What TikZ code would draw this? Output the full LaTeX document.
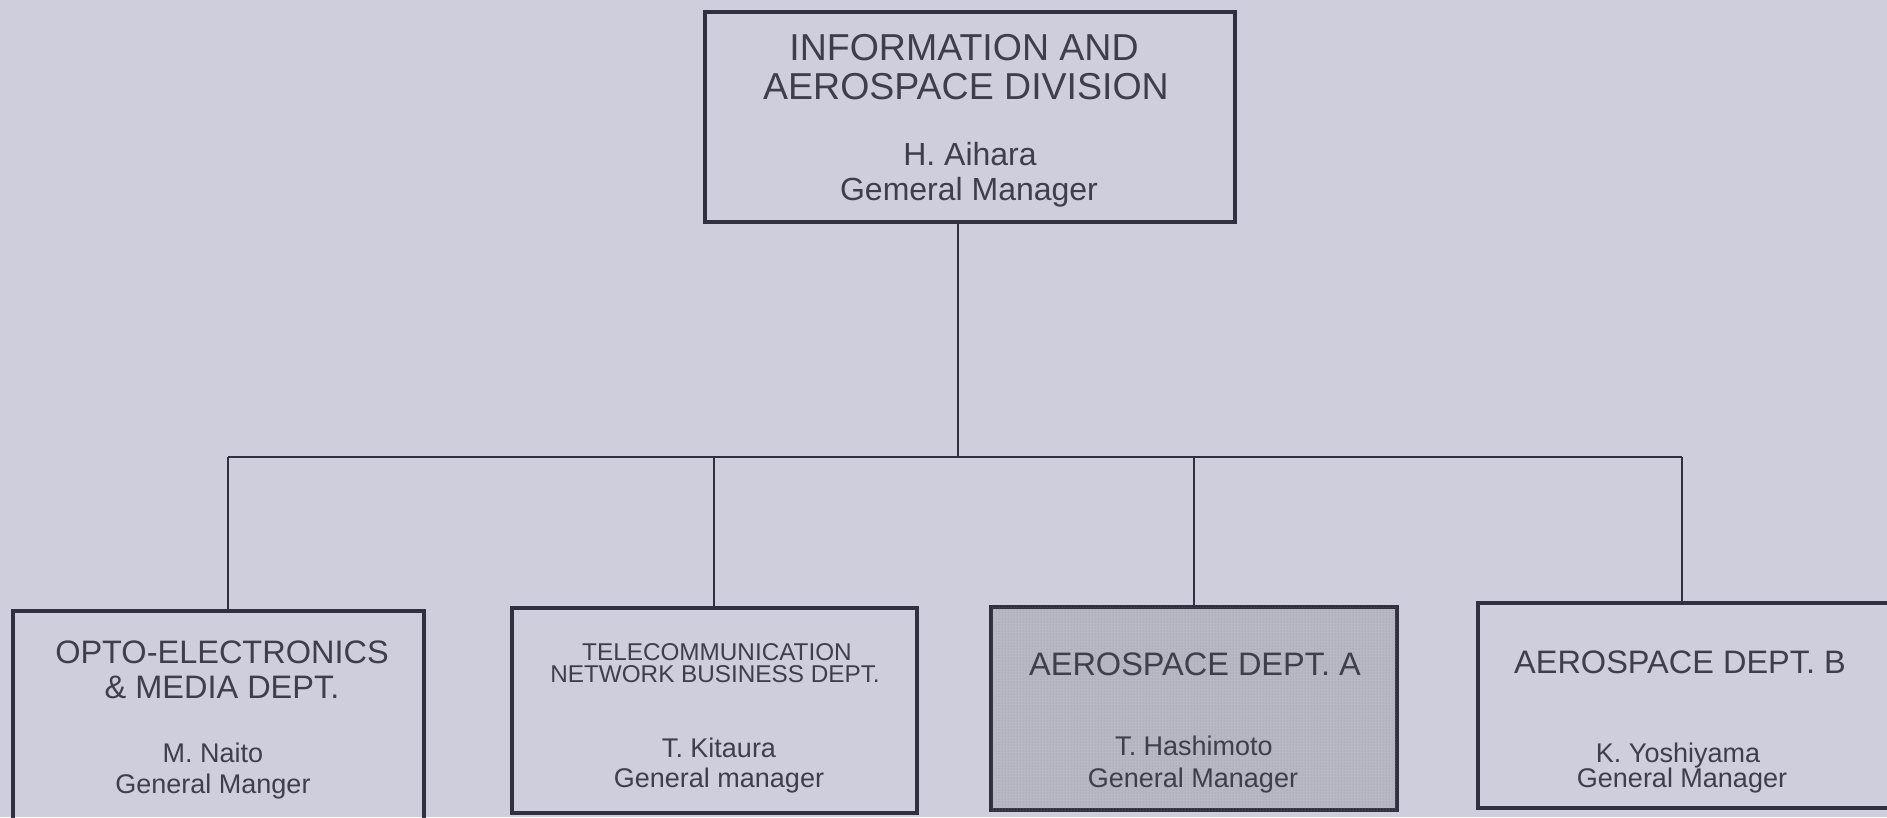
\documentclass[tikz,border=0pt]{standalone}
\usepackage{fontspec}
\setmainfont{Liberation Sans}
\usetikzlibrary{patterns}
\definecolor{bg}{RGB}{207,206,221}
\definecolor{ln}{RGB}{48,48,64}
\definecolor{tx}{RGB}{62,62,76}
\definecolor{shade}{RGB}{184,183,196}
\definecolor{dotc}{RGB}{150,149,162}
\tikzset{
  orgbox/.style={draw=ln, line width=4.5pt, inner sep=0pt, anchor=center},
  conn/.style={draw=ln, line width=2.8pt},
  txt/.style={text=tx, inner sep=0pt, anchor=base},
  szbig/.style={font=\fontsize{37.5}{40}\selectfont},
  sztitle/.style={font=\fontsize{32.5}{36}\selectfont},
  szsmall/.style={font=\fontsize{24.3}{26}\selectfont},
  szname/.style={font=\fontsize{27}{30}\selectfont},
  sztopname/.style={font=\fontsize{32}{36}\selectfont}
}
\begin{document}
\begin{tikzpicture}[x=1pt,y=-1pt]
\useasboundingbox (0,0) rectangle (1887,817);
\fill[bg] (0,0) rectangle (1887,817);
\begin{scope}
\clip (0,0) rectangle (1887,817);
% boxes
\node[orgbox, minimum width=530pt, minimum height=210pt] (top) at (970,117) {};
\node[orgbox, minimum width=411pt, minimum height=209pt] (b1) at (218.5,715.5) {};
\node[orgbox, minimum width=405pt, minimum height=205pt] (b2) at (714.5,710.5) {};
\node[orgbox, fill=shade, postaction={pattern=dots, pattern color=dotc}, minimum width=406pt, minimum height=203pt] (b3) at (1194,708.5) {};
\node[orgbox, minimum width=412pt, minimum height=205pt] (b4) at (1684,705.5) {};
% bus coordinates
\coordinate (j0) at (958,457);
\coordinate (j1) at (228,457);
\coordinate (j2) at (714,457);
\coordinate (j3) at (1194,457);
\coordinate (j4) at (1682,457);
% connectors
\draw[conn] (top.south -| j0) -- (j0);
\draw[conn] (j1) -- (j4);
\draw[conn] (j1) -- (b1.north -| j1);
\draw[conn] (j2) -- (b2.north -| j2);
\draw[conn] (j3) -- (b3.north -| j3);
\draw[conn] (j4) -- (b4.north -| j4);
% top texts
\node[txt, szbig] (t0a) at (964,60) {INFORMATION AND};
\node[txt, szbig] (t0b) at (966,99) {AEROSPACE DIVISION};
\node[txt, sztopname] (t0c) at (970,165) {H. Aihara};
\node[txt, sztopname] (t0d) at (969,200) {Gemeral Manager};
% box 1
\node[txt, sztitle] (t1a) at (222,663) {OPTO-ELECTRONICS};
\node[txt, sztitle] (t1b) at (222,698) {\& MEDIA DEPT.};
\node[txt, szname] (t1c) at (213,762) {M. Naito};
\node[txt, szname] (t1d) at (213,793) {General Manger};
% box 2
\node[txt, szsmall] (t2a) at (717,660) {TELECOMMUNICATION};
\node[txt, szsmall] (t2b) at (715,682) {NETWORK BUSINESS DEPT.};
\node[txt, szname] (t2c) at (719,757) {T. Kitaura};
\node[txt, szname] (t2d) at (719,787) {General manager};
% box 3
\node[txt, sztitle] (t3a) at (1195,675) {AEROSPACE DEPT. A};
\node[txt, szname] (t3c) at (1194,755) {T. Hashimoto};
\node[txt, szname] (t3d) at (1193,787) {General Manager};
% box 4
\node[txt, sztitle] (t4a) at (1680,673) {AEROSPACE DEPT. B};
\node[txt, szname] (t4c) at (1678,762) {K. Yoshiyama};
\node[txt, szname] (t4d) at (1682,787) {General Manager};
\end{scope}
\end{tikzpicture}
\end{document}
